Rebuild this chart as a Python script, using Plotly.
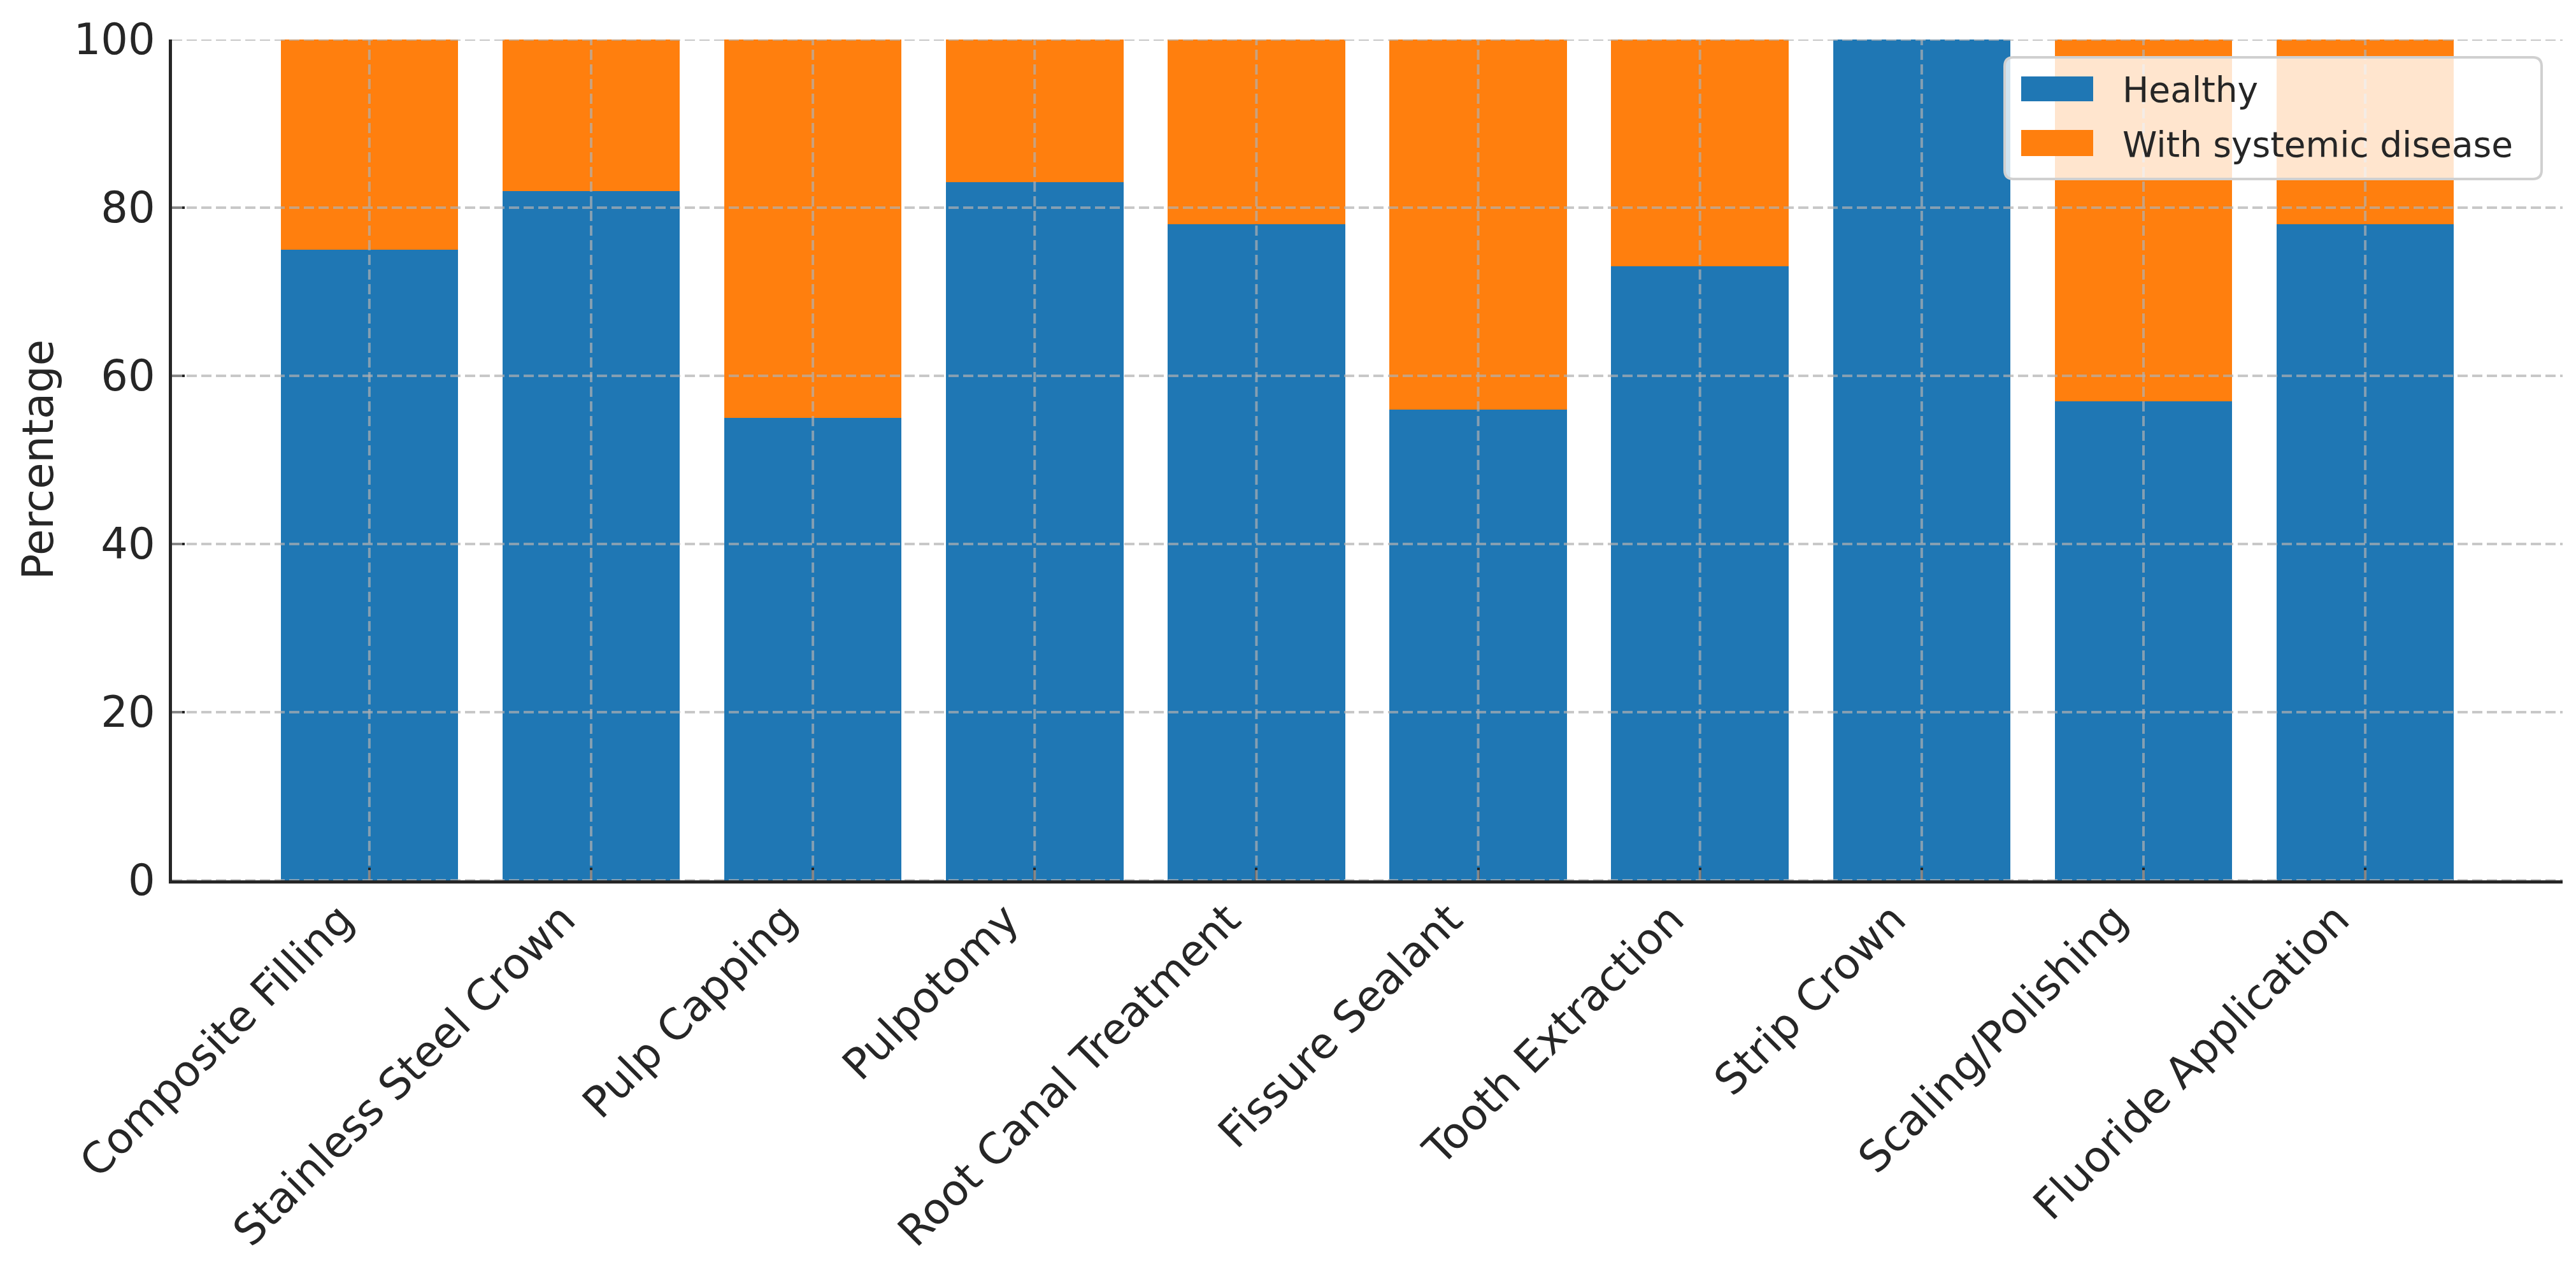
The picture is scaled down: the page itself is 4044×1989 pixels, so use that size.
import plotly.graph_objects as go

categories = [
    "Composite Filling",
    "Stainless Steel Crown",
    "Pulp Capping",
    "Pulpotomy",
    "Root Canal Treatment",
    "Fissure Sealant",
    "Tooth Extraction",
    "Strip Crown",
    "Scaling/Polishing",
    "Fluoride Application",
]
healthy = [75, 82, 55, 83, 78, 56, 73, 100, 57, 78]
systemic = [25, 18, 45, 17, 22, 44, 27, 0, 43, 22]
y_ticks = [0, 20, 40, 60, 80, 100]
series_names = ["Healthy", "With systemic disease"]

BLUE = "#1f77b4"
ORANGE = "#ff7f0e"
INK = "#262626"
GRID = "rgba(176,176,176,0.7)"
FONT = "DejaVu Sans"

W, H = 4044, 1989
L, R, T, B = 262, 29, 54, 615


def px_x(px):
    return (px - L) / (W - L - R)


def px_y(py):
    return 1 - (py - T) / (H - T - B)


fig = go.Figure()
fig.add_trace(go.Bar(x=categories, y=healthy, name=series_names[0], showlegend=False,
                     marker=dict(color=BLUE, line=dict(width=0))))
fig.add_trace(go.Bar(x=categories, y=systemic, name=series_names[1], showlegend=False,
                     marker=dict(color=ORANGE, line=dict(width=0))))

shapes = []
for c in categories:
    shapes.append(dict(type="line", xref="x", yref="y", x0=c, x1=c, y0=0, y1=100,
                       line=dict(color=GRID, width=4, dash="16px,7px"), layer="above"))
for t in y_ticks:
    shapes.append(dict(type="line", xref="paper", yref="y", x0=0, x1=1, y0=t, y1=t,
                       line=dict(color=GRID, width=4, dash="16px,7px"), layer="above"))

# custom legend (rounded box, wide swatches)
bx0, bx1, by0, by1, rad = 3139, 3982, 82, 273, 14
path = (f"M {px_x(bx0 + rad)},{px_y(by0)} L {px_x(bx1 - rad)},{px_y(by0)} "
        f"Q {px_x(bx1)},{px_y(by0)} {px_x(bx1)},{px_y(by0 + rad)} "
        f"L {px_x(bx1)},{px_y(by1 - rad)} Q {px_x(bx1)},{px_y(by1)} {px_x(bx1 - rad)},{px_y(by1)} "
        f"L {px_x(bx0 + rad)},{px_y(by1)} Q {px_x(bx0)},{px_y(by1)} {px_x(bx0)},{px_y(by1 - rad)} "
        f"L {px_x(bx0)},{px_y(by0 + rad)} Q {px_x(bx0)},{px_y(by0)} {px_x(bx0 + rad)},{px_y(by0)} Z")
shapes.append(dict(type="path", xref="paper", yref="paper", path=path,
                   fillcolor="rgba(255,255,255,0.8)", line=dict(color="#d0d0d0", width=4),
                   layer="above"))
annotations = []
legend_rows = [(112, 151), (196, 237)]
for (sy0, sy1), name, col in zip(legend_rows, series_names, [BLUE, ORANGE]):
    shapes.append(dict(type="rect", xref="paper", yref="paper",
                       x0=px_x(3165), x1=px_x(3278), y0=px_y(sy1), y1=px_y(sy0),
                       fillcolor=col, line=dict(width=0), layer="above"))
    annotations.append(dict(text=name, xref="paper", yref="paper",
                            x=px_x(3322), y=px_y((sy0 + sy1) / 2 + 2),
                            xanchor="left", yanchor="middle", showarrow=False,
                            font=dict(family=FONT, size=55, color=INK)))

annotations.append(dict(
    text="Percentage", xref="paper", yref="paper", x=px_x(52), y=0.5,
    textangle=-90, showarrow=False, xanchor="center", yanchor="middle",
    font=dict(family=FONT, size=67, color=INK),
))

fig.update_layout(
    barmode="stack",
    bargap=0.2,
    width=W,
    height=H,
    margin=dict(l=L, r=R, t=T, b=B),
    plot_bgcolor="white",
    paper_bgcolor="white",
    font=dict(family=FONT, size=67, color=INK),
    shapes=shapes,
    annotations=annotations,
    showlegend=False,
)
fig.update_xaxes(
    type="category", range=[-0.89, 9.89],
    showline=True, linecolor=INK, linewidth=5,
    ticks="inside", ticklen=20, tickwidth=4, tickcolor=INK,
    tickangle=-45, showgrid=False, zeroline=False,
    ticklabelshift=-45, ticklabelstandoff=-10,
    tickfont=dict(family=FONT, size=67, color=INK),
)
fig.update_yaxes(
    range=[0, 100], tickvals=y_ticks,
    showline=True, linecolor=INK, linewidth=5,
    ticks="inside", ticklen=20, tickwidth=4, tickcolor=INK,
    showgrid=False, zeroline=False, ticklabelstandoff=8,
    tickfont=dict(family=FONT, size=67, color=INK),
)

fig.write_html("out.html")
